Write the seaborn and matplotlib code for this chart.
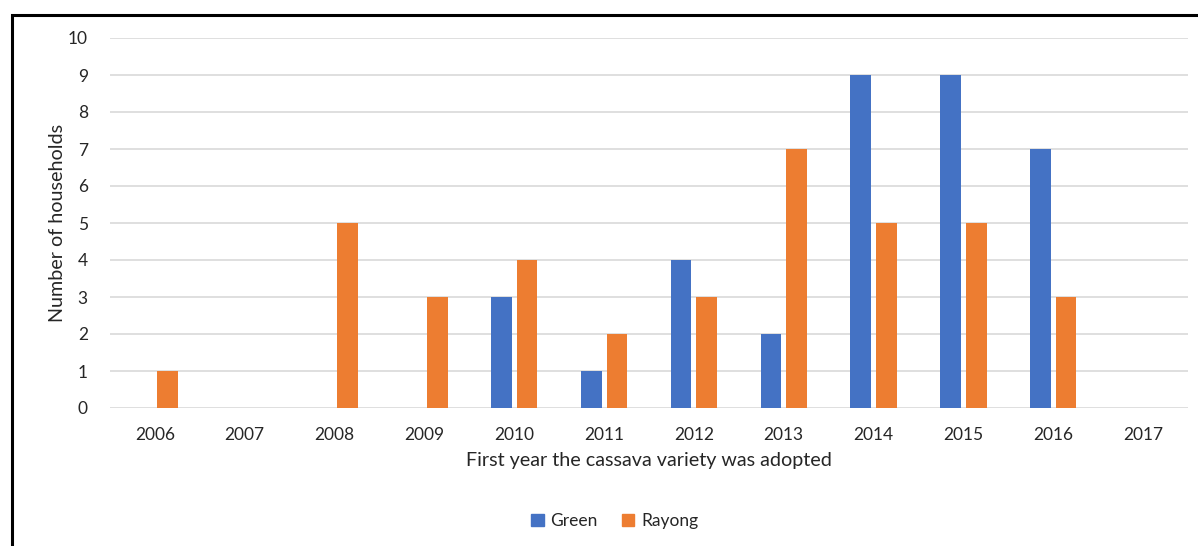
import matplotlib
matplotlib.use("Agg")
import matplotlib.pyplot as plt
from matplotlib.patches import Rectangle
import pandas as pd
import seaborn as sns

years = ["2006", "2007", "2008", "2009", "2010", "2011",
         "2012", "2013", "2014", "2015", "2016", "2017"]
green = [0, 0, 0, 0, 3, 1, 4, 2, 9, 9, 7, 0]
rayong = [1, 0, 5, 3, 4, 2, 3, 7, 5, 5, 3, 0]
varieties = ["Green", "Rayong"]
colors = ["#4472C4", "#ED7D31"]

df = pd.DataFrame({
    "year": years * 2,
    "households": green + rayong,
    "variety": [varieties[0]] * len(years) + [varieties[1]] * len(years),
})

sns.set_theme(style="white")
plt.rcParams["font.family"] = ["Lato", "DejaVu Sans"]

fig = plt.figure(figsize=(11.98, 5.46), dpi=100)
ax = fig.add_axes([110 / 1198, 1 - 408 / 546, 1078 / 1198, 370 / 546])

sns.barplot(data=df, x="year", y="households", hue="variety", order=years,
            hue_order=varieties, palette=colors, width=0.57, gap=0.19,
            saturation=1, errorbar=None, ax=ax, legend=False, zorder=3,
            linewidth=0)

ax.set_xlim(-0.5, len(years) - 0.5)
ax.set_ylim(0, 10)
ax.set_yticks(range(0, 11))
ax.yaxis.grid(True, color="#D9D9D9", linewidth=1.2, zorder=0)
ax.xaxis.grid(False)
for s in ax.spines.values():
    s.set_visible(False)
ax.tick_params(axis="both", length=0, labelsize=12.5, colors="#262626")
ax.tick_params(axis="x", pad=14)
ax.tick_params(axis="y", pad=16)
ax.set_xlabel("First year the cassava variety was adopted", fontsize=14.2,
              color="#262626", labelpad=6)
ax.set_ylabel("Number of households", fontsize=14.2, color="#262626", labelpad=1)

handles = [Rectangle((0, 0), 1, 1, color=c) for c in colors]
fig.legend(handles, varieties, loc="center", bbox_to_anchor=(615 / 1198, 1 - 521 / 546),
           ncol=2, frameon=False, fontsize=12.5, handlelength=0.7, handleheight=0.7,
           handletextpad=0.4, columnspacing=1.4, labelcolor="#262626")

# outer frame around the chart
fig.patches.append(Rectangle((12 / 1198, -0.05), 1.2, 1 - 15 / 546 + 0.05,
                             transform=fig.transFigure, fill=False,
                             edgecolor="black", linewidth=2.2))

fig.savefig("out.png", dpi=100)
